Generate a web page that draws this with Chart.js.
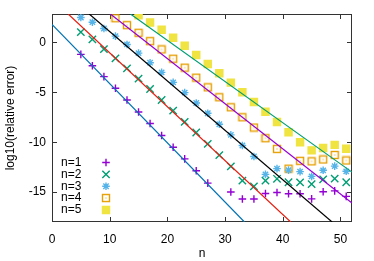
<!DOCTYPE html>
<html><head><meta charset="utf-8">
<script src="https://cdn.jsdelivr.net/npm/chart.js@4.4.1/dist/chart.umd.min.js"></script>
<style>html,body{margin:0;padding:0;background:#fff}</style>
</head><body>
<canvas id="c" width="374" height="261"></canvas>
<script>
// ---- data ----
const nValues = [5,7,9,11,13,15,17,19,21,23,25,27,29,31,33,35,37,39,41,43,45,47,49,51];
const err1 = [-1.2,-2.33,-3.43,-4.6,-5.77,-6.97,-8.13,-9.33,-10.5,-11.67,-12.87,-14.1,null,-15.0,-15.7,-15.7,-15.15,-15.04,-15.17,-15.17,-15.68,-14.97,-14.88,-15.43];
const err2 = [1.03,0.3,-0.67,-1.6,-2.6,-3.63,-4.67,-5.77,-6.83,-7.97,-9.03,-10.17,-11.3,-12.43,-13.85,-14.43,-13.85,-13.67,-14.02,-14.03,-14.2,-13.73,-13.65,-14.02];
const err3 = [2.5,2.03,1.4,0.63,-0.2,-1.07,-2.03,-3.0,-4.0,-5.03,-6.07,-7.1,-8.2,-9.27,-10.33,-11.43,-13.23,-12.65,-12.8,-12.95,-13.43,-12.82,-12.4,-12.92];
const err4 = [null,null,null,2.43,1.73,0.97,0.13,-0.7,-1.63,-2.53,-3.53,-4.5,-5.5,-6.5,-7.5,-8.53,-9.6,-10.67,-12.65,-11.87,-11.92,-11.73,-11.28,-11.83];
const err5 = [null,null,null,null,null,2.73,2.0,1.27,0.47,-0.33,-1.27,-2.17,-3.1,-4.03,-5.0,-5.97,-6.95,-7.97,-9.0,-10.0,-10.82,-10.58,-10.27,-10.65];
const seriesLabels = ['n=1','n=2','n=3','n=4','n=5'];
// fitted straight lines: endpoints [x0,x1], [y0,y1]
const fit1X = [0, 33.36],   fit1Y = [1.8, -18];
const fit2X = [2.8, 41.38], fit2Y = [2.85, -18];
const fit3X = [6.45, 48.55],fit3Y = [2.85, -18];
const fit4X = [10.12, 52],  fit4Y = [2.85, -16.1];
const fit5X = [13.6, 52],   fit5Y = [2.85, -13.0];
const xTicks = [0,10,20,30,40,50];
const yTicks = [-15,-10,-5,0];
const xRange = [0, 52];
const yRange = [-18, 2.85];

// ---- styling ----
const FONT = '"Liberation Sans", Arial, sans-serif';
const ptColors = ['#9400d3','#009e73','#56b4e9','#e69f00','#f0e442'];
const lineColors = ['#0072b2','#e51e10','#000000','#9400d3','#009e73'];

function openSquare(){
  const c = document.createElement('canvas'); c.width = 10; c.height = 10;
  const g = c.getContext('2d');
  g.strokeStyle = ptColors[3]; g.lineWidth = 1.4;
  g.strokeRect(1.5,1.5,7,7);
  g.fillStyle = ptColors[3]; g.fillRect(4.5,4.5,1,1);
  return c;
}
const sqImg = openSquare();

const pointDefs = [
  {style:'cross', r:3.8, fill:ptColors[0]},
  {style:'crossRot', r:5.2, fill:ptColors[1]},
  {style:'star', r:3.8, fill:ptColors[2]},
  {style:sqImg, r:5, fill:'rgba(0,0,0,0)'},
  {style:'rect', r:5.0, fill:ptColors[4]},
];
const errs = [err1,err2,err3,err4,err5];
const fits = [[fit1X,fit1Y],[fit2X,fit2Y],[fit3X,fit3Y],[fit4X,fit4Y],[fit5X,fit5Y]];

const datasets = [];
fits.forEach((f,i)=>{
  datasets.push({
    label:'fit'+(i+1), showLine:true, pointRadius:0, borderColor:lineColors[i],
    borderWidth:1.2, data:f[0].map((x,k)=>({x:x,y:f[1][k]})), isFit:true
  });
});
errs.forEach((e,i)=>{
  const d = pointDefs[i];
  datasets.push({
    label:seriesLabels[i], showLine:false,
    data:nValues.map((n,k)=>({x:n,y:e[k]})).filter(p=>p.y!==null),
    pointStyle:d.style, pointRadius:d.r, pointHoverRadius:d.r,
    borderColor:ptColors[i], backgroundColor:d.fill, pointBorderWidth:1.4,
  });
});

const frame = {
  id:'frame',
  beforeDatasetsDraw(chart){
    const {ctx, chartArea:a, scales} = chart;
    ctx.save();
    ctx.strokeStyle = '#333'; ctx.lineWidth = 1;
    ctx.strokeRect(a.left+0.5, a.top+0.5, a.right-a.left-1, a.bottom-a.top-1);
    ctx.beginPath();
    const L = 5;
    scales.x.ticks.forEach(t=>{
      const px = Math.round(scales.x.getPixelForValue(t.value))+0.5;
      ctx.moveTo(px, a.bottom); ctx.lineTo(px, a.bottom-L);
      ctx.moveTo(px, a.top); ctx.lineTo(px, a.top+L);
    });
    scales.y.ticks.forEach(t=>{
      const py = Math.round(scales.y.getPixelForValue(t.value))+0.5;
      ctx.moveTo(a.left, py); ctx.lineTo(a.left+L, py);
      ctx.moveTo(a.right, py); ctx.lineTo(a.right-L, py);
    });
    ctx.stroke();
    ctx.restore();
  }
};

const keyPlugin = {
  id:'key',
  afterDatasetsDraw(chart){
    const {ctx, chartArea:a} = chart;
    ctx.save();
    ctx.font = '12px ' + FONT;
    ctx.fillStyle = '#000';
    ctx.textAlign = 'left'; ctx.textBaseline = 'middle';
    const y0 = a.bottom - 59.5, dy = 11.85;
    seriesLabels.forEach((lab,i)=>{
      const y = y0 + i*dy;
      ctx.fillText(lab, a.left + 9, y);
      const d = pointDefs[i];
      ctx.strokeStyle = ptColors[i]; ctx.fillStyle = d.fill; ctx.lineWidth = 1.4;
      Chart.helpers.drawPoint(ctx, {pointStyle:d.style, radius:d.r, rotation:0, borderWidth:1.4}, a.left + 54, y);
      ctx.fillStyle = '#000';
    });
    ctx.restore();
  }
};

new Chart(document.getElementById('c'), {
  type:'scatter',
  data:{datasets},
  plugins:[frame, keyPlugin],
  options:{
    responsive:false, animation:false, events:[],
    layout:{padding:{top:14, right:22, left:0, bottom:0}},
    plugins:{legend:{display:false}, tooltip:{enabled:false}},
    scales:{
      x:{
        type:'linear', min:xRange[0], max:xRange[1],
        afterBuildTicks(s){ s.ticks = xTicks.map(v=>({value:v})); },
        afterFit(s){ s.height = 39; },
        grid:{display:false, drawTicks:false}, border:{display:false},
        ticks:{padding:10, color:'#000', font:{family:FONT, size:12}, maxRotation:0},
        title:{display:true, text:'n', color:'#000', font:{family:FONT, size:12}, padding:{top:1,bottom:0}}
      },
      y:{
        type:'linear', min:yRange[0], max:yRange[1],
        afterBuildTicks(s){ s.ticks = yTicks.map(v=>({value:v})); },
        afterFit(s){ s.width = 52; },
        grid:{display:false, drawTicks:false}, border:{display:false},
        ticks:{padding:6, color:'#000', font:{family:FONT, size:12}},
        title:{display:true, text:'log10(relative error)', color:'#000', font:{family:FONT, size:12}, padding:{top:3,bottom:0}}
      }
    }
  }
});
</script>
</body></html>
